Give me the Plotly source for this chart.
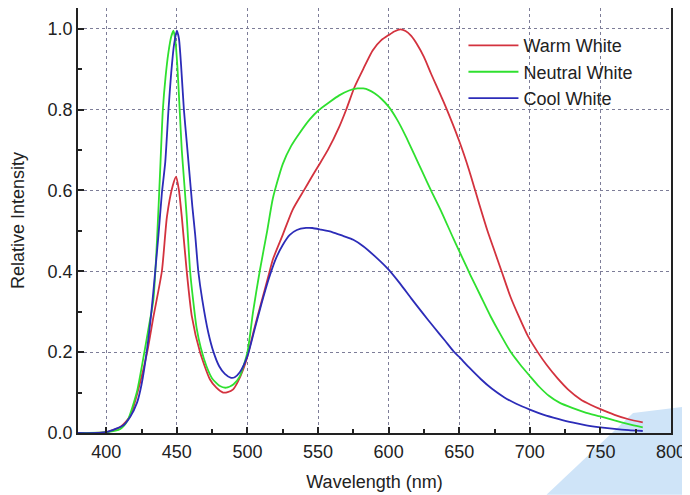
import plotly.graph_objects as go

# ---- data ----
warm_nm = [380, 400, 410, 417, 424, 429, 433.5, 439.4, 443, 447, 449.5, 451.5, 453.5, 457, 460.6,
           466.4, 473.4, 478, 482.8, 486, 489.9, 493, 497, 500, 505, 510, 515, 518, 525, 532, 540,
           545, 550, 557, 565, 570, 575.8, 582, 588.7, 595, 600, 604, 608.5, 612, 616, 620, 625,
           630, 640, 650, 657, 664, 670, 675, 680, 686.5, 692, 698.6, 705.6, 712, 719.7, 727, 736,
           743, 750, 760, 770, 780]
warm_int = [0.0, 0.002, 0.015, 0.042, 0.125, 0.2, 0.289, 0.40, 0.535, 0.61, 0.634, 0.60, 0.535,
            0.40, 0.289, 0.2, 0.133, 0.112, 0.10, 0.101, 0.108, 0.125, 0.157, 0.19, 0.26, 0.325,
            0.39, 0.429, 0.49, 0.552, 0.60, 0.63, 0.659, 0.70, 0.757, 0.80, 0.855, 0.90, 0.946,
            0.972, 0.984, 0.993, 0.998, 0.994, 0.982, 0.962, 0.93, 0.889, 0.81, 0.722, 0.65,
            0.568, 0.50, 0.45, 0.40, 0.335, 0.29, 0.24, 0.20, 0.168, 0.135, 0.108, 0.083, 0.07,
            0.059, 0.045, 0.034, 0.026]

neutral_nm = [380, 400, 410, 415, 421.6, 426, 430, 433.4, 436, 438.2, 440.1, 442, 444, 446, 447.6,
              449, 450.5, 452, 453.5, 455, 457, 459.4, 461.5, 464, 467, 471, 475, 480.5, 485, 490,
              494.6, 500, 504, 508.7, 514, 518, 525, 531, 537, 544, 550, 558, 565, 572, 578, 582,
              586, 590, 595, 600, 606, 612, 618, 624, 630, 637, 646, 652, 658, 665, 672, 679,
              686.5, 693, 700, 706.5, 713.5, 721, 730, 740, 750, 760, 770, 780]
neutral_int = [0.0, 0.002, 0.01, 0.03, 0.1, 0.18, 0.26, 0.33, 0.48, 0.65, 0.80, 0.88, 0.94, 0.98,
               0.995, 0.97, 0.90, 0.80, 0.70, 0.63, 0.535, 0.40, 0.33, 0.26, 0.21, 0.165, 0.135,
               0.116, 0.112, 0.12, 0.14, 0.2, 0.30, 0.40, 0.50, 0.58, 0.665, 0.71, 0.742, 0.775,
               0.797, 0.818, 0.835, 0.847, 0.852, 0.852, 0.848, 0.84, 0.826, 0.807, 0.775, 0.735,
               0.69, 0.645, 0.60, 0.55, 0.48, 0.435, 0.39, 0.34, 0.29, 0.245, 0.20, 0.17, 0.141,
               0.115, 0.092, 0.075, 0.062, 0.05, 0.041, 0.031, 0.022, 0.014]

cool_nm = [380, 400, 412.4, 417, 421.8, 425, 428.9, 432, 434.7, 437, 439.4, 441.8, 444.1, 446, 448,
           450, 451.5, 453, 455, 457, 458.5, 461, 463, 465.2, 468, 472.3, 476, 480, 484, 488, 491,
           494.6, 500, 505, 510, 515, 520, 525, 530, 535, 541.5, 546, 552, 560, 568, 575, 582, 590,
           600, 608, 616, 624, 632, 640, 646, 650, 657, 665.4, 673, 682, 690, 700, 710, 720, 730,
           740, 750, 760, 770, 780]
cool_int = [0.0, 0.002, 0.02, 0.04, 0.075, 0.12, 0.207, 0.30, 0.40, 0.49, 0.593, 0.67, 0.80, 0.89,
            0.96, 0.995, 0.975, 0.91, 0.80, 0.72, 0.66, 0.56, 0.49, 0.40, 0.33, 0.248, 0.20, 0.165,
            0.146, 0.137, 0.138, 0.15, 0.19, 0.255, 0.32, 0.38, 0.43, 0.465, 0.49, 0.502, 0.507,
            0.507, 0.503, 0.497, 0.487, 0.478, 0.462, 0.438, 0.404, 0.37, 0.333, 0.297, 0.262,
            0.228, 0.202, 0.188, 0.162, 0.133, 0.11, 0.088, 0.073, 0.058, 0.045, 0.035, 0.026,
            0.019, 0.014, 0.01, 0.007, 0.005]

series_names = ["Warm White", "Neutral White", "Cool White"]
x_ticks = [400, 450, 500, 550, 600, 650, 700, 750, 800]
y_ticks = [0.0, 0.2, 0.4, 0.6, 0.8, 1.0]

colors = ["#d3323e", "#2fe02f", "#2c2cb8"]
FONT = "Liberation Sans, Arial, sans-serif"

fig = go.Figure()
for name, xs, ys, c in zip(series_names,
                           [warm_nm, neutral_nm, cool_nm],
                           [warm_int, neutral_int, cool_int], colors):
    fig.add_trace(go.Scatter(x=xs, y=ys, name=name, mode="lines",
                             line=dict(color=c, width=1.8, shape="spline", smoothing=0.6)))

axis_common = dict(
    showline=True, linecolor="#222222", linewidth=1.5, mirror=True,
    ticks="inside", ticklen=6, tickwidth=1.5, tickcolor="#222222",
    showgrid=True, gridcolor="#7d7d98", gridwidth=1, griddash="3px,3px",
    zeroline=False,
    tickfont=dict(family=FONT, size=18, color="#222222"),
    title_font=dict(family=FONT, size=18, color="#222222"),
    minor=dict(ticks="inside", ticklen=4, tickwidth=1.5, tickcolor="#222222", showgrid=False),
)

fig.update_xaxes(range=[380, 800], tickvals=x_ticks, ticktext=[str(v) for v in x_ticks],
                 title_text="Wavelength (nm)", title_standoff=14, ticklabelstandoff=2,
                 minor_dtick=25, **axis_common)
fig.update_yaxes(range=[0, 1.051], tickvals=y_ticks, ticktext=[f"{v:.1f}" for v in y_ticks],
                 title_text="Relative Intensity", title_standoff=20, ticklabelstandoff=0,
                 minor_dtick=0.1, **axis_common)

# light blue decoration in bottom-right corner of the picture
fig.add_shape(type="path", xref="paper", yref="paper", layer="below",
              path="M 0.790,-0.1455 L 0.936,0.047 L 1.045,0.066 L 1.045,-0.1455 Z",
              fillcolor="#cfe4f8", line=dict(width=0))

# page body has an 8px margin: figure is sized/offset so the plot area lands at
# x 78..671, y 7..433 of the 690x495 window
fig.update_layout(
    width=690, height=487,
    margin=dict(l=70, r=27, t=0, b=62, autoexpand=False),
    paper_bgcolor="white", plot_bgcolor="white",
    font=dict(family=FONT, size=18, color="#222222"),
    showlegend=True,
    legend=dict(x=0.65, y=0.955, xanchor="left", yanchor="top",
                bgcolor="rgba(0,0,0,0)", borderwidth=0,
                font=dict(family=FONT, size=18, color="#222222"),
                itemwidth=50, tracegroupgap=0),
)

fig.write_html("out.html")
